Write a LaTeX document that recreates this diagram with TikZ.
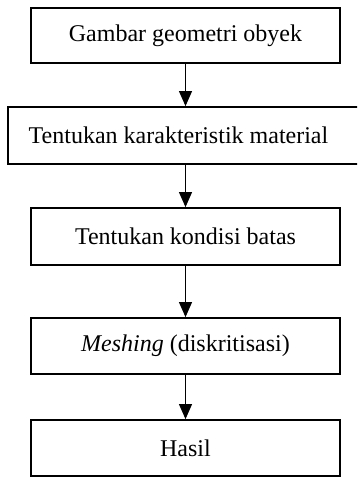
\documentclass[tikz,border=0pt]{standalone}
\usepackage{fontspec}
\setmainfont{Liberation Serif}
\usetikzlibrary{arrows.meta}
\begin{document}
\begin{tikzpicture}[x=1pt,y=-1pt,
  box/.style={draw=black,line width=1.8pt,inner sep=0pt,minimum height=56pt,
    font=\fontsize{24}{28}\selectfont},
  arr/.style={line width=1pt,-{Triangle[length=15pt,width=13pt]}}]
\useasboundingbox (0,0) rectangle (357,477);
\clip (0,0) rectangle (357,477);
\node[box,minimum width=309pt,minimum height=55pt] (b1) at (185.5,35.5) {Gambar geometri obyek};
\node[box,minimum width=355pt,minimum height=57pt] (b2) at (185.5,135.5) {\hspace*{-14pt}Tentukan karakteristik material};
\node[box,minimum width=309pt,minimum height=57pt] (b3) at (185.5,236.5) {Tentukan kondisi batas};
\node[box,minimum width=309pt,minimum height=56pt] (b4) at (185.5,346) {\textit{Meshing} (diskritisasi)};
\node[box,minimum width=309pt,minimum height=56pt] (b5) at (185.5,448) {Hasil};
\draw[arr] (b1) -- (b2);
\draw[arr] (b2) -- (b3);
\draw[arr] (b3) -- (b4);
\draw[arr] (b4) -- (b5);
\end{tikzpicture}
\end{document}
